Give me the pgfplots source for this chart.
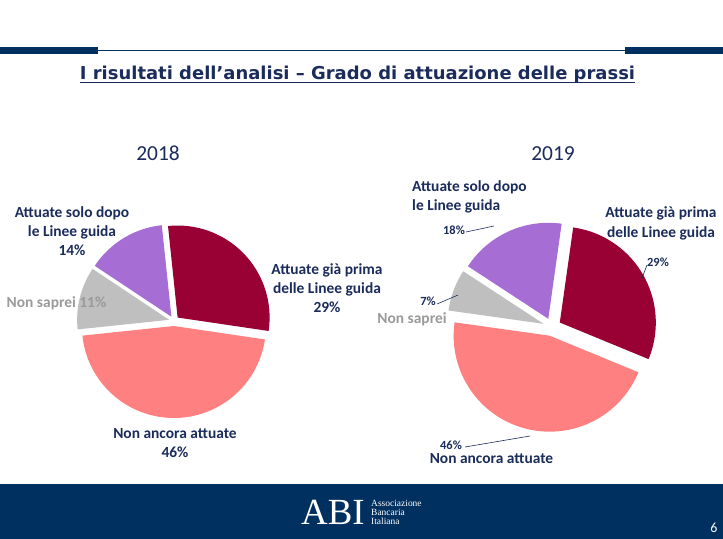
\documentclass[border=0pt]{standalone}
\usepackage{pgfplots}
\pgfplotsset{compat=1.18}
\usepackage{fontspec}
\setmainfont{Carlito}
\newfontfamily\titlefont{DejaVu Sans}
\newfontfamily\abifont{Liberation Serif}
\definecolor{navy}{HTML}{1B2C5C}
\definecolor{band}{HTML}{00305F}
\definecolor{cred}{HTML}{990033}
\definecolor{cpink}{HTML}{FF8080}
\definecolor{cgrey}{HTML}{BFBFBF}
\definecolor{cpurple}{HTML}{A66DD4}
\definecolor{greytext}{HTML}{9A9A9A}
% pie slice: cx, cy, radius, explode, start angle, cumulative pct before, pct, colour
\newcommand{\pieslice}[8]{%
  \pgfmathsetmacro\sa{#5-3.6*#6}%
  \pgfmathsetmacro\se{#5-3.6*(#6+#7)}%
  \pgfmathsetmacro\pm{(\sa+\se)/2}%
  \pgfmathsetmacro\ax{#1+#4*cos(\pm)}%
  \pgfmathsetmacro\ay{#2-#4*sin(\pm)}%
  \edef\doslice{\noexpand\addplot[fill=#8, draw=none, domain=\se:\sa, samples=80, variable=\noexpand\t]
    ({\ax+#3*cos(\noexpand\t)},{\ay-#3*sin(\noexpand\t)}) -- (axis cs:\ax,\ay) -- cycle;}%
  \doslice
}
\newcommand{\lbl}[4]{\node[anchor=base, text=#4, inner sep=0pt, font=\bfseries\fontsize{15.5}{18}\selectfont] at (axis cs:#1,#2) {#3};}
\newcommand{\pct}[3]{\node[anchor=base, text=navy, inner sep=0pt, font=\bfseries\fontsize{12.5}{14}\selectfont] at (axis cs:#1,#2) {#3};}
\begin{document}
\begin{tikzpicture}
\begin{axis}[scale only axis, width=723bp, height=539bp,
  xmin=0, xmax=723, ymin=0, ymax=539, y dir=reverse,
  axis lines=none, clip=false]
\fill[white] (axis cs:0,0) rectangle (axis cs:723,539);
% header bars
\fill[band] (axis cs:0,47) rectangle (axis cs:98,54);
\fill[band] (axis cs:625,47) rectangle (axis cs:723,54);
\draw[band, line width=1bp] (axis cs:98,50.5) -- (axis cs:625,50.5);
% title
\node[anchor=base, inner sep=0pt, text=navy] at (axis cs:357.5,80)
  {\resizebox{555bp}{13.5bp}{\titlefont\bfseries I risultati dell’analisi – Grado di attuazione delle prassi}};
\draw[navy, line width=1.4bp] (axis cs:80,82.8) -- (axis cs:635,82.8);
% years
\node[anchor=base, inner sep=0pt, text=navy, font=\fontsize{21.5}{24}\selectfont] at (axis cs:158,160) {2018};
\node[anchor=base, inner sep=0pt, text=navy, font=\fontsize{21.5}{24}\selectfont] at (axis cs:553,160) {2019};
% 2018 pie: 29, 46, 11, 14
\pieslice{174}{321}{92}{5}{96}{0}{29}{cred}
\pieslice{174}{321}{92}{5}{96}{29}{46}{cpink}
\pieslice{174}{321}{92}{5}{96}{75}{11}{cgrey}
\pieslice{174}{321}{92}{5}{96}{86}{14}{cpurple}
% 2019 pie: 29, 46, 7, 18
\pieslice{552}{327}{96}{9}{82}{0}{29}{cred}
\pieslice{552}{327}{96}{9}{82}{29}{46}{cpink}
\pieslice{552}{327}{96}{9}{82}{75}{7}{cgrey}
\pieslice{552}{327}{96}{9}{82}{82}{18}{cpurple}
% 2018 labels
\lbl{72}{217}{Attuate solo dopo}{navy}
\lbl{72}{236}{le Linee guida}{navy}
\lbl{72}{255}{14\%}{navy}
\lbl{327}{274}{Attuate già prima}{navy}
\lbl{327}{293}{delle Linee guida}{navy}
\lbl{327}{312}{29\%}{navy}
\lbl{56.5}{307}{Non saprei 11\%}{greytext}
\lbl{175}{438}{Non ancora attuate}{navy}
\lbl{175}{457}{46\%}{navy}
% 2019 labels
\node[anchor=base west, text=navy, inner sep=0pt, font=\bfseries\fontsize{15.5}{18}\selectfont] at (axis cs:412,191) {Attuate solo dopo};
\node[anchor=base west, text=navy, inner sep=0pt, font=\bfseries\fontsize{15.5}{18}\selectfont] at (axis cs:412,210) {le Linee guida};
\lbl{661}{217}{Attuate già prima}{navy}
\lbl{661}{237}{delle Linee guida}{navy}
\lbl{412}{323}{Non saprei}{greytext}
\lbl{491.5}{463}{Non ancora attuate}{navy}
\pct{454}{234}{18\%}
\pct{658}{266}{29\%}
\pct{428}{305}{7\%}
\pct{451}{449}{46\%}
\draw[navy, line width=0.6bp] (axis cs:466,232) -- (axis cs:494,226);
\draw[navy, line width=0.6bp] (axis cs:647,265) -- (axis cs:642,278);
\draw[navy, line width=0.6bp] (axis cs:437,304) -- (axis cs:458,295);
\draw[navy, line width=0.6bp] (axis cs:465,447) -- (axis cs:530,436);
% footer
\fill[band] (axis cs:0,484) rectangle (axis cs:723,539);
\node[anchor=base west, inner sep=0pt, text=white, font=\abifont\fontsize{37}{37}\selectfont] at (axis cs:301,524.5) {ABI};
\node[anchor=base west, inner sep=0pt, text=white, font=\abifont\fontsize{9.5}{9}\selectfont] at (axis cs:371,506) {Associazione};
\node[anchor=base west, inner sep=0pt, text=white, font=\abifont\fontsize{9.5}{9}\selectfont] at (axis cs:371,515) {Bancaria};
\node[anchor=base west, inner sep=0pt, text=white, font=\abifont\fontsize{9.5}{9}\selectfont] at (axis cs:371,524) {Italiana};
\node[anchor=base, inner sep=0pt, text=white, font=\fontsize{14}{14}\selectfont] at (axis cs:714,532) {6};
\end{axis}
\end{tikzpicture}
\end{document}
